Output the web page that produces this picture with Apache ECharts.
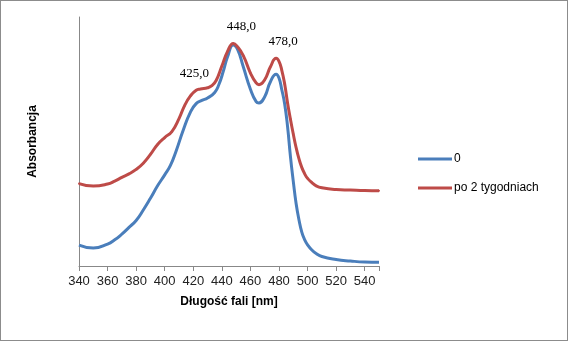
<!DOCTYPE html>
<html><head><meta charset="utf-8">
<script src="https://cdn.jsdelivr.net/npm/echarts@6/dist/echarts.min.js"></script>
<style>
html,body{margin:0;padding:0;background:#fff;}
#frame{position:absolute;left:0;top:0;width:566px;height:339px;border:1px solid #8c8c8c;}
#c{position:absolute;left:0;top:0;width:568px;height:341px;}
</style></head>
<body><div id="frame"></div><div id="c"></div>
<script>
const xTicks = [340,360,380,400,420,440,460,480,500,520,540];
const wl0 = [340,350,360,365,370,375,380,385,390,395,400,404,408,413,418,422,426,430,435,438,441,444,448,451,455,460,464,466,470,474,478,480,482,484,486,488,490,492,494,496,498,500,503,506,510,520,530,540,550];
const abs0 = [0.084,0.072,0.088,0.105,0.128,0.155,0.183,0.225,0.272,0.322,0.366,0.404,0.462,0.546,0.618,0.652,0.665,0.675,0.697,0.730,0.782,0.840,0.888,0.870,0.800,0.710,0.660,0.655,0.680,0.740,0.770,0.755,0.707,0.650,0.560,0.440,0.340,0.250,0.185,0.135,0.105,0.085,0.064,0.050,0.038,0.026,0.020,0.016,0.015];
const wl2 = [340,350,360,365,370,375,380,385,390,395,400,405,410,414,418,422,425,430,433,436,440,444,448,451,455,460,464,466,470,474,478,480,482,484,486,488,490,492,494,496,498,500,503,506,510,520,530,540,550];
const abs2 = [0.331,0.321,0.329,0.341,0.356,0.370,0.388,0.413,0.448,0.488,0.516,0.540,0.592,0.645,0.683,0.706,0.711,0.716,0.724,0.745,0.803,0.862,0.894,0.880,0.845,0.775,0.735,0.728,0.748,0.800,0.834,0.822,0.785,0.730,0.655,0.590,0.530,0.475,0.430,0.395,0.370,0.352,0.335,0.322,0.314,0.307,0.305,0.303,0.302];
const peakLabels = [425,448,478];
const peakOffsets = [[-6,1],[8,0],[7,0]];

const chart = echarts.init(document.getElementById('c'));
const fmt = v => v.toFixed(1).replace('.', ',');
chart.setOption({
  animation:false,
  grid:{left:79,right:189,top:17,bottom:75},
  legend:{
    orient:'vertical', left:413, top:148, itemWidth:34, itemHeight:3, itemGap:17,
    icon:'rect',
    textStyle:{fontFamily:'Liberation Sans',fontSize:12,color:'#000',padding:[0,0,0,-3]},
    data:['0','po 2 tygodniach']
  },
  xAxis:{
    type:'value', min:340, max:550, interval:20,
    name:'Długość fali [nm]', nameLocation:'middle', nameGap:30,
    nameTextStyle:{fontFamily:'Liberation Sans',fontSize:12,fontWeight:'bold',color:'#000'},
    axisLine:{lineStyle:{color:'#888',width:1}},
    axisTick:{show:true,length:5,lineStyle:{color:'#888'}},
    axisLabel:{fontFamily:'Liberation Sans',fontSize:13,color:'#222',margin:9,
      formatter:v => xTicks.includes(v) ? String(v) : ''},
    splitLine:{show:false}
  },
  yAxis:{
    type:'value', min:0, max:1,
    name:'Absorbancja', nameLocation:'middle', nameGap:40, nameRotate:90,
    nameTextStyle:{fontFamily:'Liberation Sans',fontSize:12,fontWeight:'bold',color:'#000'},
    axisLine:{show:true,lineStyle:{color:'#888',width:1}},
    axisTick:{show:false}, axisLabel:{show:false}, splitLine:{show:false}
  },
  series:[
    {name:'0', type:'line', smooth:0.5, symbol:'none', z:2,
     lineStyle:{color:'#4A7EBB',width:3}, itemStyle:{color:'#4A7EBB'},
     data: wl0.map((x,i)=>[x,abs0[i]])},
    {name:'po 2 tygodniach', type:'line', smooth:0.5, symbol:'circle', symbolSize:2, showSymbol:true, z:3,
     lineStyle:{color:'#BE4B48',width:3}, itemStyle:{color:'#BE4B48'},
     label:{show:false},
     data: wl2.map((x,i)=>{
       const d = {value:[x,abs2[i]]};
       const k = peakLabels.indexOf(x);
       if (k >= 0) {
         d.label = {show:true, position:'top', distance:9, offset:peakOffsets[k],
           formatter: p => fmt(p.value[0]),
           fontFamily:'Liberation Serif', fontSize:13, color:'#000'};
       }
       return d;
     })}
  ]
});
</script></body></html>
